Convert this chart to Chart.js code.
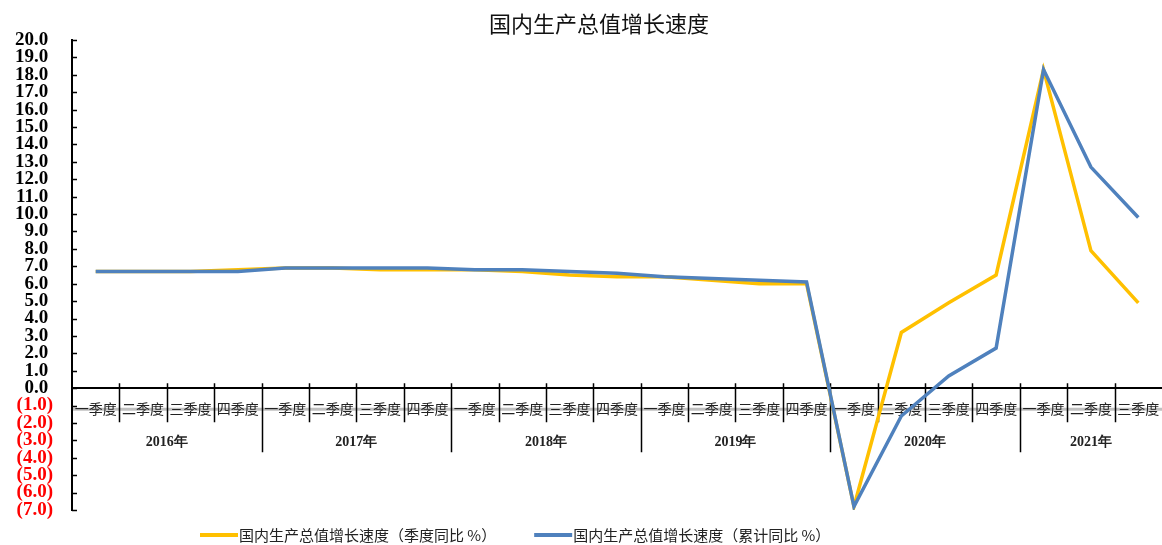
<!DOCTYPE html>
<html>
<head>
<meta charset="utf-8">
<title>国内生产总值增长速度</title>
<script src="https://cdn.jsdelivr.net/npm/chart.js@4/dist/chart.umd.min.js"></script>
<style>
  html, body { margin: 0; padding: 0; background: #fff; overflow: hidden; }
  #wrap { width: 1162px; height: 545px; }
</style>
</head>
<body>
<div id="wrap"><canvas id="gdp" width="1162" height="545"></canvas></div>
<script>
// Quarter labels along the category axis
const quarters = [
  '一季度', '二季度', '三季度', '四季度',
  '一季度', '二季度', '三季度', '四季度',
  '一季度', '二季度', '三季度', '四季度',
  '一季度', '二季度', '三季度', '四季度',
  '一季度', '二季度', '三季度', '四季度',
  '一季度', '二季度', '三季度'
];
// Year group labels and how many quarters each group spans
const years = ['2016年', '2017年', '2018年', '2019年', '2020年', '2021年'];
const quartersPerYear = [4, 4, 4, 4, 4, 3];

// GDP growth, %
const quarterlyYoY = [
  6.7, 6.7, 6.7, 6.8,
  6.9, 6.9, 6.8, 6.8,
  6.8, 6.7, 6.5, 6.4,
  6.4, 6.2, 6.0, 6.0,
  -6.8, 3.2, 4.9, 6.5,
  18.3, 7.9, 4.9
];
const cumulativeYoY = [
  6.7, 6.7, 6.7, 6.7,
  6.9, 6.9, 6.9, 6.9,
  6.8, 6.8, 6.7, 6.6,
  6.4, 6.3, 6.2, 6.1,
  -6.8, -1.6, 0.7, 2.3,
  18.3, 12.7, 9.8
];
const seriesNames = ['国内生产总值增长速度（季度同比 %）', '国内生产总值增长速度（累计同比 %）'];
const chartTitle = '国内生产总值增长速度';
const yMin = -7, yMax = 20, yStep = 1;

const CJK = '"Noto Sans CJK SC", "Noto Sans", sans-serif';
const SERIF = '"Liberation Serif", "DejaVu Serif", serif';
const YELLOW = '#FFC000';
const BLUE = '#4F81BD';

// Axis furniture: cross ticks, year grouping, label band, title and legend
const decorations = {
  id: 'decorations',
  beforeDraw(chart) {
    const { ctx, chartArea, scales } = chart;
    const zeroY = scales.y.getPixelForValue(0);
    ctx.save();
    ctx.strokeStyle = '#C0C0C0';
    ctx.lineWidth = 3;
    ctx.beginPath();
    ctx.moveTo(chartArea.left, zeroY + 21);
    ctx.lineTo(chartArea.right, zeroY + 21);
    ctx.stroke();
    ctx.restore();
  },
  beforeDatasetsDraw(chart) {
    const { ctx, chartArea, scales } = chart;
    const y = scales.y;
    const zeroY = y.getPixelForValue(0);
    const n = quarters.length;
    const step = (chartArea.right - chartArea.left) / n;
    const yearEnds = new Set();
    let acc = 0;
    quartersPerYear.forEach(c => { acc += c; yearEnds.add(acc); });

    ctx.save();
    ctx.strokeStyle = '#000';
    ctx.lineWidth = 1.5;
    ctx.beginPath();
    for (let i = 1; i < n; i++) {
      const px = Math.round(chartArea.left + i * step) + 0.5;
      ctx.moveTo(px, zeroY - 5);
      ctx.lineTo(px, zeroY + (yearEnds.has(i) ? 64 : 34));
    }
    // inward ticks on the value axis
    for (let v = yMin; v <= yMax; v += yStep) {
      const py = Math.round(y.getPixelForValue(v)) + 0.5;
      ctx.moveTo(chartArea.left, py);
      ctx.lineTo(chartArea.left + 5, py);
    }
    ctx.stroke();

    // year group labels
    ctx.fillStyle = '#222';
    ctx.font = 'bold 14px ' + SERIF;
    ctx.textAlign = 'center';
    ctx.textBaseline = 'middle';
    let start = 0;
    years.forEach((label, k) => {
      const end = start + quartersPerYear[k];
      const cx = chartArea.left + (start + end) / 2 * step;
      ctx.fillText(label, cx, zeroY + 54);
      start = end;
    });
    ctx.restore();
  },
  afterDraw(chart) {
    const { ctx } = chart;
    ctx.save();
    // title
    ctx.fillStyle = '#111';
    ctx.font = '22px ' + CJK;
    ctx.textAlign = 'center';
    ctx.textBaseline = 'middle';
    ctx.fillText(chartTitle, 599, 24);

    // legend
    ctx.font = '15px ' + CJK;
    ctx.textAlign = 'left';
    let lx = 200;
    const ly = 535;
    chart.data.datasets.forEach(ds => {
      ctx.strokeStyle = ds.borderColor;
      ctx.lineWidth = 4;
      ctx.beginPath();
      ctx.moveTo(lx, ly);
      ctx.lineTo(lx + 38, ly);
      ctx.stroke();
      ctx.fillStyle = '#222';
      ctx.fillText(ds.label, lx + 39, ly);
      lx += 39 + ctx.measureText(ds.label).width + 38;
    });
    ctx.restore();
  }
};

new Chart(document.getElementById('gdp'), {
  type: 'line',
  data: {
    labels: quarters,
    datasets: [
      {
        label: seriesNames[0],
        data: quarterlyYoY,
        borderColor: YELLOW,
        backgroundColor: YELLOW,
        borderWidth: 3.5,
        pointRadius: 0,
        tension: 0,
        order: 2
      },
      {
        label: seriesNames[1],
        data: cumulativeYoY,
        borderColor: BLUE,
        backgroundColor: BLUE,
        borderWidth: 3.5,
        pointRadius: 0,
        tension: 0,
        order: 1
      }
    ]
  },
  options: {
    responsive: false,
    animation: false,
    devicePixelRatio: 1,
    layout: { padding: { top: 40, bottom: 35, left: 0, right: 0 } },
    plugins: {
      legend: { display: false },
      title: { display: false },
      tooltip: { enabled: false }
    },
    scales: {
      x: {
        type: 'category',
        offset: true,
        position: { y: 0 },
        grid: { display: false, drawTicks: false },
        border: { display: true, color: '#000', width: 2 },
        afterFit(scale) { scale.paddingLeft = 0; scale.paddingRight = 0; },
        ticks: {
          autoSkip: false,
          maxRotation: 0,
          minRotation: 0,
          padding: 12,
          color: '#222',
          font: { family: CJK, size: 14 }
        }
      },
      y: {
        min: yMin,
        max: yMax,
        grid: { display: false, drawTicks: false },
        border: { display: true, color: '#000', width: 2 },
        afterFit(scale) { scale.width = 72; },
        ticks: {
          stepSize: yStep,
          autoSkip: false,
          padding: 19,
          font: { family: SERIF, size: 19, weight: 'bold' },
          color: ctx => (ctx.tick && ctx.tick.value < 0 ? '#FF0000' : '#000'),
          callback: v => (v < 0 ? '(' + (-v).toFixed(1) + ')' : v.toFixed(1) + ' ')
        }
      }
    }
  },
  plugins: [decorations]
});
</script>
</body>
</html>
